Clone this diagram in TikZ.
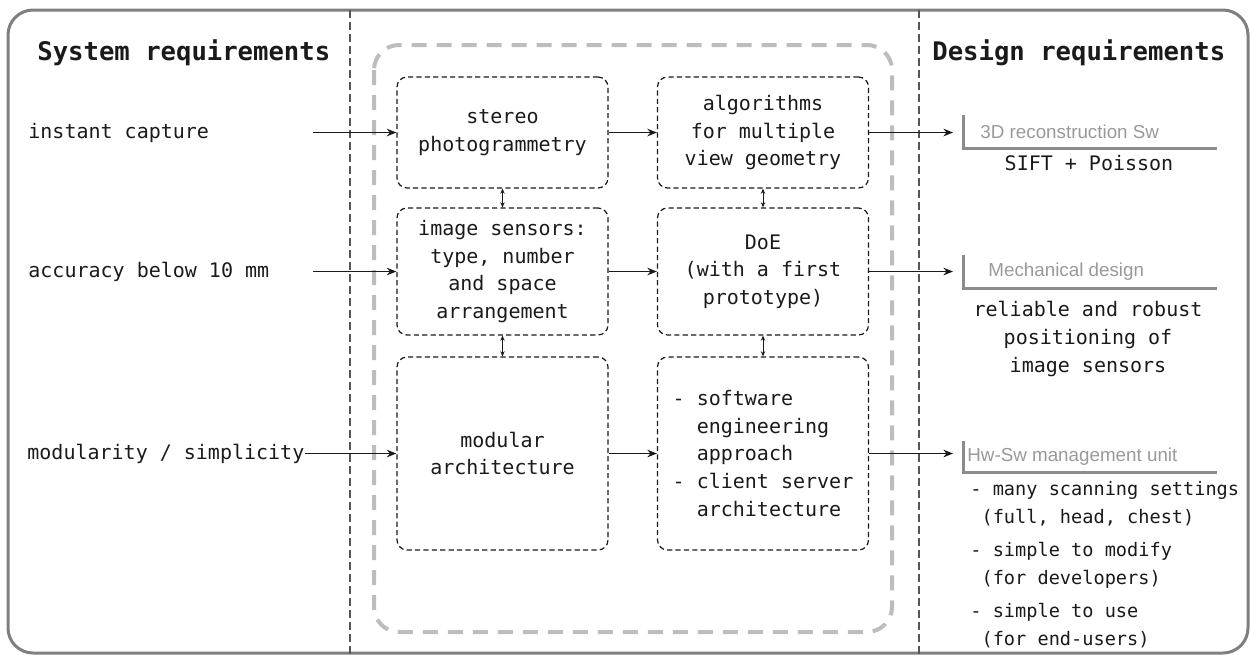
\documentclass[tikz,border=0pt]{standalone}
\usepackage{fontspec}
\setmonofont{DejaVu Sans Mono}
\setsansfont{Liberation Sans}
\usepackage{tikz}
\usetikzlibrary{arrows.meta, positioning, calc}
\definecolor{FrameGray}{HTML}{7F7F7F}
\definecolor{DivGray}{HTML}{555555}
\definecolor{BlockGray}{HTML}{BDBDBD}
\definecolor{TagGray}{HTML}{8C8C8C}
\definecolor{TagText}{HTML}{999999}
\definecolor{Ink}{HTML}{1A1A1A}

\begin{document}
\begin{tikzpicture}[x=0.5pt, y=-0.5pt, >={Stealth[length=4.8pt, width=3.8pt]},
    txt/.style={font=\ttfamily\fontsize{10}{13.8}\selectfont, color=Ink, inner sep=0pt},
    title/.style={font=\ttfamily\bfseries\fontsize{12.8}{15}\selectfont, color=Ink, inner sep=0pt, anchor=west},
    stage/.style={txt, draw=Ink, line width=0.6pt, dash pattern=on 2.6pt off 1.6pt,
        rounded corners=5pt, minimum width=105.5pt, align=center},
    tag/.style={font=\sffamily\fontsize{9.4}{11}\selectfont, color=TagText, inner sep=0pt, anchor=west},
    link/.style={->, line width=0.7pt, color=Ink},
    vlink/.style={<->, line width=0.45pt, color=Ink, >={Stealth[length=2.6pt, width=2.2pt]}}]
    \useasboundingbox (0,0) rectangle (1250,655);

    % Outer frame and column dividers
    \draw[line width=1.5pt, color=FrameGray, rounded corners=12.5pt] (8,10) rectangle (1248,653);
    \draw[line width=1pt, color=DivGray, dash pattern=on 4pt off 2pt] (350,10) -- (350,655);
    \draw[line width=1pt, color=DivGray, dash pattern=on 4pt off 2pt] (919,10) -- (919,655);

    % Solution block
    \draw[line width=2pt, color=BlockGray, dash pattern=on 7.5pt off 5pt, rounded corners=12.5pt]
        (374,45) rectangle (892,632);

    % Column titles
    \node[title] (sysreq) at (37,53) {System requirements};
    \node[title] (desreq) at (932,53) {Design requirements};

    % Inputs
    \node[txt, anchor=west] (capture) at (28,133) {instant capture};
    \node[txt, anchor=west] (accuracy) at (28,272) {accuracy below 10 mm};
    \node[txt, anchor=west] (modularity) at (27,453.5) {modularity / simplicity};
    \coordinate (in1) at (313,132.5);
    \coordinate (in2) at (313,271.5);

    % Stages
    \node[stage, minimum height=55.5pt] (stereo) at (502.5,132.5) {stereo\\photogrammetry};
    \node[stage, minimum height=55.5pt] (algo) at (763,132.5) {algorithms\\for multiple\\view geometry};
    \node[stage, minimum height=63.5pt] (sensors) at (502.5,271.5) {image sensors:\\type, number\\and space\\arrangement};
    \node[stage, minimum height=63.5pt] (doe) at (763,271.5) {DoE\\(with a first\\prototype)};
    \node[stage, minimum height=96.5pt] (modular) at (502.5,453.5) {modular\\architecture};
    \node[stage, minimum height=96.5pt, align=left] (soft) at (763,453.5)
        {- software\\\hphantom{xx}engineering\\\hphantom{xx}approach\\- client server\\\hphantom{xx}architecture};

    % Outputs
    \coordinate (out1) at (953,132.5);
    \coordinate (out2) at (953,271.5);
    \coordinate (out3) at (953,453.5);

    \draw[link] (in1) -- (stereo);
    \draw[link] (in2) -- (sensors);
    \draw[link] (modularity) -- (modular);
    \draw[link] (stereo) -- (algo);
    \draw[link] (sensors) -- (doe);
    \draw[link] (modular) -- (soft);
    \draw[link] (algo) -- (out1);
    \draw[link] (doe) -- (out2);
    \draw[link] (soft) -- (out3);
    \draw[vlink] (stereo) -- (sensors);
    \draw[vlink] (sensors) -- (modular);
    \draw[vlink] (algo) -- (doe);
    \draw[vlink] (doe) -- (soft);

    % Design requirement tags
    \draw[line width=1.5pt, color=TagGray] (963,115) |- (1217,148);
    \node[tag] (recon) at (980,132) {3D reconstruction Sw};
    \node[txt] (sift) at (1089,163) {SIFT + Poisson};

    \draw[line width=1.5pt, color=TagGray] (963,255) |- (1217,288);
    \node[tag] (mech) at (988,272) {Mechanical design};
    \node[txt, align=center] (reliable) at (1088,339) {reliable and robust\\positioning of\\image sensors};

    \draw[line width=1.5pt, color=TagGray] (963,441) |- (1217,472);
    \node[tag] (hwsw) at (967,457) {Hw-Sw management unit};
    \node[txt, font=\ttfamily\fontsize{9.3}{14}\selectfont, align=left, anchor=west] (settings) at (970,565)
        {- many scanning settings\\\hphantom{x}(full, head, chest)\\[2.5pt]- simple to modify\\\hphantom{x}(for developers)\\[2.5pt]- simple to use\\\hphantom{x}(for end-users)};
\end{tikzpicture}
\end{document}
